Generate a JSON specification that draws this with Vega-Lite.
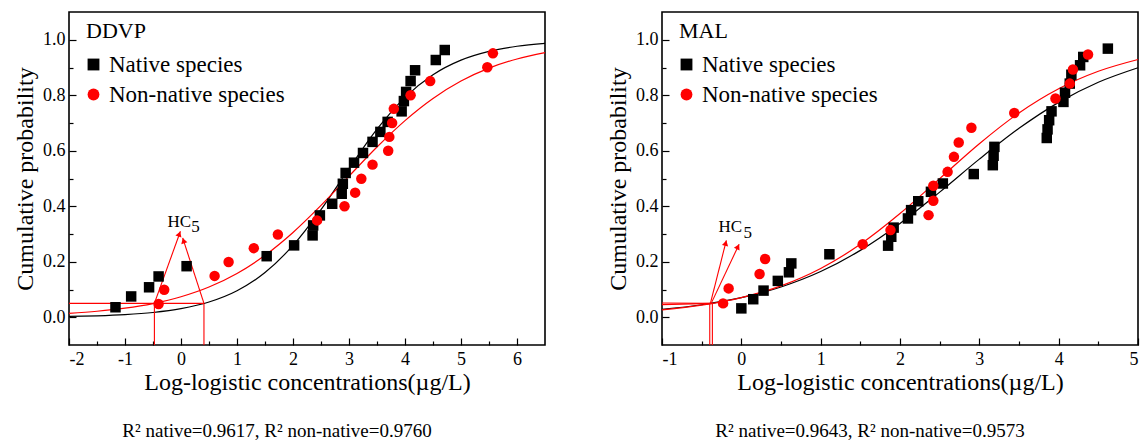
{
  "$schema": "https://vega.github.io/schema/vega-lite/v6.json",
  "padding": {"left": 12, "top": 11, "right": 2, "bottom": 2},
  "background": "white",
  "spacing": 56,
  "config": {
    "font": "Liberation Serif",
    "view": {"stroke": "black", "strokeWidth": 1.6},
    "axis": {"domain": false, "grid": false, "labelFont": "Liberation Serif", "labelFontSize": 18, "labelColor": "black", "titleFont": "Liberation Serif", "titleFontWeight": "normal", "titleColor": "black", "tickColor": "black", "tickWidth": 1.2},
    "axisX": {"titleFontSize": 24, "labelPadding": 12, "titlePadding": 2},
    "axisY": {"titleFontSize": 24, "labelPadding": 11, "titlePadding": 5},
    "legend": {"orient": "none", "legendX": 17, "legendY": 9, "padding": 0, "titleFont": "Liberation Serif", "titleFontSize": 22, "titleFontWeight": "normal", "titleColor": "black", "labelFont": "Liberation Serif", "labelFontSize": 23, "labelColor": "black", "symbolSize": 140, "rowPadding": 6, "titlePadding": 10, "labelOffset": 4, "symbolOffset": -4, "labelLimit": 300, "symbolStrokeWidth": 0},
    "title": {"font": "Liberation Serif", "fontSize": 19, "fontWeight": "normal", "color": "black", "orient": "bottom", "offset": 28, "dx": -30}
  },
  "resolve": {"scale": {"color": "independent", "shape": "independent"}, "legend": {"color": "independent", "shape": "independent"}},
  "datasets": {
    "ddvp_pts": [
      {"series": "Native species", "x": -1.17, "y": 0.036},
      {"series": "Native species", "x": -0.89, "y": 0.075},
      {"series": "Native species", "x": -0.57, "y": 0.108},
      {"series": "Native species", "x": -0.40, "y": 0.147},
      {"series": "Native species", "x": 0.10, "y": 0.184},
      {"series": "Native species", "x": 1.53, "y": 0.220},
      {"series": "Native species", "x": 2.02, "y": 0.259},
      {"series": "Native species", "x": 2.35, "y": 0.295},
      {"series": "Native species", "x": 2.36, "y": 0.331},
      {"series": "Native species", "x": 2.48, "y": 0.367},
      {"series": "Native species", "x": 2.70, "y": 0.409},
      {"series": "Native species", "x": 2.87, "y": 0.445},
      {"series": "Native species", "x": 2.89, "y": 0.481},
      {"series": "Native species", "x": 2.94, "y": 0.520},
      {"series": "Native species", "x": 3.09, "y": 0.557},
      {"series": "Native species", "x": 3.25, "y": 0.592},
      {"series": "Native species", "x": 3.42, "y": 0.632},
      {"series": "Native species", "x": 3.56, "y": 0.668},
      {"series": "Native species", "x": 3.69, "y": 0.704},
      {"series": "Native species", "x": 3.94, "y": 0.742},
      {"series": "Native species", "x": 3.98, "y": 0.779},
      {"series": "Native species", "x": 4.02, "y": 0.812},
      {"series": "Native species", "x": 4.10, "y": 0.851},
      {"series": "Native species", "x": 4.18, "y": 0.890},
      {"series": "Native species", "x": 4.55, "y": 0.927},
      {"series": "Native species", "x": 4.71, "y": 0.963},
      {"series": "Non-native species", "x": -0.40, "y": 0.048},
      {"series": "Non-native species", "x": -0.30, "y": 0.099},
      {"series": "Non-native species", "x": 0.60, "y": 0.149},
      {"series": "Non-native species", "x": 0.85, "y": 0.199},
      {"series": "Non-native species", "x": 1.30, "y": 0.249},
      {"series": "Non-native species", "x": 1.73, "y": 0.298},
      {"series": "Non-native species", "x": 2.43, "y": 0.349},
      {"series": "Non-native species", "x": 2.92, "y": 0.400},
      {"series": "Non-native species", "x": 3.11, "y": 0.449},
      {"series": "Non-native species", "x": 3.22, "y": 0.499},
      {"series": "Non-native species", "x": 3.42, "y": 0.550},
      {"series": "Non-native species", "x": 3.70, "y": 0.600},
      {"series": "Non-native species", "x": 3.72, "y": 0.650},
      {"series": "Non-native species", "x": 3.77, "y": 0.700},
      {"series": "Non-native species", "x": 3.80, "y": 0.751},
      {"series": "Non-native species", "x": 4.10, "y": 0.800},
      {"series": "Non-native species", "x": 4.45, "y": 0.851},
      {"series": "Non-native species", "x": 5.47, "y": 0.901},
      {"series": "Non-native species", "x": 5.57, "y": 0.951}
    ],
    "ddvp_curve": [
      {"series": "Native species", "x": -2, "y": 0.0029},
      {"series": "Native species", "x": -1.5, "y": 0.0053},
      {"series": "Native species", "x": -1, "y": 0.0096},
      {"series": "Native species", "x": -0.5, "y": 0.0172},
      {"series": "Native species", "x": 0, "y": 0.0309},
      {"series": "Native species", "x": 0.5, "y": 0.0548},
      {"series": "Native species", "x": 1, "y": 0.0954},
      {"series": "Native species", "x": 1.5, "y": 0.161},
      {"series": "Native species", "x": 2, "y": 0.259},
      {"series": "Native species", "x": 2.5, "y": 0.388},
      {"series": "Native species", "x": 3, "y": 0.536},
      {"series": "Native species", "x": 3.5, "y": 0.6775},
      {"series": "Native species", "x": 4, "y": 0.7925},
      {"series": "Native species", "x": 4.5, "y": 0.874},
      {"series": "Native species", "x": 5, "y": 0.9266},
      {"series": "Native species", "x": 5.5, "y": 0.9582},
      {"series": "Native species", "x": 6, "y": 0.9766},
      {"series": "Native species", "x": 6.5, "y": 0.987},
      {"series": "Non-native species", "x": -2, "y": 0.0142},
      {"series": "Non-native species", "x": -1.5, "y": 0.0216},
      {"series": "Non-native species", "x": -1, "y": 0.0328},
      {"series": "Non-native species", "x": -0.5, "y": 0.0494},
      {"series": "Non-native species", "x": 0, "y": 0.0738},
      {"series": "Non-native species", "x": 0.5, "y": 0.1088},
      {"series": "Non-native species", "x": 1, "y": 0.1577},
      {"series": "Non-native species", "x": 1.5, "y": 0.2231},
      {"series": "Non-native species", "x": 2, "y": 0.3056},
      {"series": "Non-native species", "x": 2.5, "y": 0.403},
      {"series": "Non-native species", "x": 3, "y": 0.5085},
      {"series": "Non-native species", "x": 3.5, "y": 0.6134},
      {"series": "Non-native species", "x": 4, "y": 0.7087},
      {"series": "Non-native species", "x": 4.5, "y": 0.7885},
      {"series": "Non-native species", "x": 5, "y": 0.8511},
      {"series": "Non-native species", "x": 5.5, "y": 0.8976},
      {"series": "Non-native species", "x": 6, "y": 0.9307},
      {"series": "Non-native species", "x": 6.5, "y": 0.9537}
    ],
    "ddvp_hc": [
      {"x": -2, "y": 0.05, "x2": 0.41, "y2": 0.05},
      {"x": -0.475, "y": -0.1, "x2": -0.475, "y2": 0.05},
      {"x": 0.41, "y": -0.1, "x2": 0.41, "y2": 0.05},
      {"x": -0.475, "y": 0.05, "x2": -0.01, "y2": 0.31},
      {"x": 0.41, "y": 0.05, "x2": 0.03, "y2": 0.286}
    ],
    "ddvp_heads": [
      {"id": "a", "x": -0.03, "y": 0.3},
      {"id": "b", "x": 0.045, "y": 0.276}
    ],
    "ddvp_text": [
      {"x": -0.03, "y": 0.343, "label": "HC"},
      {"x": 0.26, "y": 0.325, "label": "5"}
    ],
    "mal_pts": [
      {"series": "Native species", "x": 0.00, "y": 0.032},
      {"series": "Native species", "x": 0.15, "y": 0.065},
      {"series": "Native species", "x": 0.28, "y": 0.096},
      {"series": "Native species", "x": 0.46, "y": 0.131},
      {"series": "Native species", "x": 0.60, "y": 0.162},
      {"series": "Native species", "x": 0.63, "y": 0.194},
      {"series": "Native species", "x": 1.11, "y": 0.227},
      {"series": "Native species", "x": 1.85, "y": 0.258},
      {"series": "Native species", "x": 1.89, "y": 0.290},
      {"series": "Native species", "x": 1.92, "y": 0.323},
      {"series": "Native species", "x": 2.10, "y": 0.356},
      {"series": "Native species", "x": 2.14, "y": 0.386},
      {"series": "Native species", "x": 2.23, "y": 0.418},
      {"series": "Native species", "x": 2.39, "y": 0.452},
      {"series": "Native species", "x": 2.54, "y": 0.482},
      {"series": "Native species", "x": 2.93, "y": 0.516},
      {"series": "Native species", "x": 3.17, "y": 0.548},
      {"series": "Native species", "x": 3.18, "y": 0.582},
      {"series": "Native species", "x": 3.19, "y": 0.614},
      {"series": "Native species", "x": 3.85, "y": 0.646},
      {"series": "Native species", "x": 3.86, "y": 0.677},
      {"series": "Native species", "x": 3.88, "y": 0.710},
      {"series": "Native species", "x": 3.91, "y": 0.742},
      {"series": "Native species", "x": 4.06, "y": 0.776},
      {"series": "Native species", "x": 4.08, "y": 0.809},
      {"series": "Native species", "x": 4.14, "y": 0.842},
      {"series": "Native species", "x": 4.16, "y": 0.874},
      {"series": "Native species", "x": 4.27, "y": 0.908},
      {"series": "Native species", "x": 4.31, "y": 0.938},
      {"series": "Native species", "x": 4.62, "y": 0.968},
      {"series": "Non-native species", "x": -0.23, "y": 0.050},
      {"series": "Non-native species", "x": -0.16, "y": 0.104},
      {"series": "Non-native species", "x": 0.23, "y": 0.156},
      {"series": "Non-native species", "x": 0.30, "y": 0.210},
      {"series": "Non-native species", "x": 1.53, "y": 0.263},
      {"series": "Non-native species", "x": 1.88, "y": 0.314},
      {"series": "Non-native species", "x": 2.36, "y": 0.368},
      {"series": "Non-native species", "x": 2.42, "y": 0.420},
      {"series": "Non-native species", "x": 2.42, "y": 0.474},
      {"series": "Non-native species", "x": 2.60, "y": 0.524},
      {"series": "Non-native species", "x": 2.68, "y": 0.578},
      {"series": "Non-native species", "x": 2.74, "y": 0.630},
      {"series": "Non-native species", "x": 2.90, "y": 0.683},
      {"series": "Non-native species", "x": 3.44, "y": 0.736},
      {"series": "Non-native species", "x": 3.96, "y": 0.788},
      {"series": "Non-native species", "x": 4.14, "y": 0.842},
      {"series": "Non-native species", "x": 4.18, "y": 0.893},
      {"series": "Non-native species", "x": 4.37, "y": 0.947}
    ],
    "mal_curve": [
      {"series": "Native species", "x": -1, "y": 0.0285},
      {"series": "Native species", "x": -0.5, "y": 0.0451},
      {"series": "Native species", "x": 0, "y": 0.0707},
      {"series": "Native species", "x": 0.5, "y": 0.1091},
      {"series": "Native species", "x": 1, "y": 0.1647},
      {"series": "Native species", "x": 1.5, "y": 0.241},
      {"series": "Native species", "x": 2, "y": 0.338},
      {"series": "Native species", "x": 2.5, "y": 0.451},
      {"series": "Native species", "x": 3, "y": 0.5698},
      {"series": "Native species", "x": 3.5, "y": 0.6807},
      {"series": "Native species", "x": 4, "y": 0.7743},
      {"series": "Native species", "x": 4.5, "y": 0.8467},
      {"series": "Native species", "x": 5, "y": 0.899},
      {"series": "Non-native species", "x": -1, "y": 0.0265},
      {"series": "Non-native species", "x": -0.5, "y": 0.0436},
      {"series": "Non-native species", "x": 0, "y": 0.0708},
      {"series": "Non-native species", "x": 0.5, "y": 0.1131},
      {"series": "Non-native species", "x": 1, "y": 0.1758},
      {"series": "Non-native species", "x": 1.5, "y": 0.2629},
      {"series": "Non-native species", "x": 2, "y": 0.3737},
      {"series": "Non-native species", "x": 2.5, "y": 0.4995},
      {"series": "Non-native species", "x": 3, "y": 0.6254},
      {"series": "Non-native species", "x": 3.5, "y": 0.7363},
      {"series": "Non-native species", "x": 4, "y": 0.8236},
      {"series": "Non-native species", "x": 4.5, "y": 0.8865},
      {"series": "Non-native species", "x": 5, "y": 0.9289}
    ],
    "mal_hc": [
      {"x": -1, "y": 0.0516, "x2": -0.398, "y2": 0.05},
      {"x": -1, "y": 0.0455, "x2": -0.365, "y2": 0.05},
      {"x": -0.398, "y": -0.1, "x2": -0.398, "y2": 0.05},
      {"x": -0.365, "y": -0.1, "x2": -0.365, "y2": 0.05},
      {"x": -0.39, "y": 0.05, "x2": -0.189, "y2": 0.277},
      {"x": -0.38, "y": 0.05, "x2": -0.028, "y2": 0.263}
    ],
    "mal_heads": [
      {"id": "a", "x": -0.197, "y": 0.267},
      {"id": "b", "x": -0.043, "y": 0.254}
    ],
    "mal_text": [
      {"x": -0.138, "y": 0.325, "label": "HC"},
      {"x": 0.08, "y": 0.302, "label": "5"}
    ]
  },
  "hconcat": [
    {
      "width": 476,
      "height": 333,
      "title": {"text": "R² native=0.9617, R² non-native=0.9760"},
      "encoding": {
        "x": {"field": "x", "type": "quantitative", "scale": {"domain": [-2, 6.5], "nice": false, "zero": false},
          "axis": {"title": "Log-logistic concentrations(µg/L)", "values": [-2, -1.5, -1, -0.5, 0, 0.5, 1, 1.5, 2, 2.5, 3, 3.5, 4, 4.5, 5, 5.5, 6],
            "labelExpr": "datum.value % 1 == 0 ? '' + datum.value : ''",
            "tickSize": {"condition": {"test": "datum.value % 1 == 0", "value": -7}, "value": -4}}},
        "y": {"field": "y", "type": "quantitative", "scale": {"domain": [-0.1, 1.1], "nice": false, "zero": false},
          "axis": {"title": "Cumulative probability", "values": [0, 0.1, 0.2, 0.3, 0.4, 0.5, 0.6, 0.7, 0.8, 0.9, 1.0],
            "labelExpr": "round(datum.value*10) % 2 == 0 ? format(datum.value, '.1f') : ''",
            "tickSize": {"condition": {"test": "round(datum.value*10) % 2 == 0", "value": -7}, "value": -4}}}
      },
      "layer": [
        {"data": {"name": "ddvp_curve"}, "transform": [{"filter": "datum.series == 'Native species'"}], "mark": {"type": "line", "color": "black", "strokeWidth": 1.2, "interpolate": "monotone"}},
        {"data": {"name": "ddvp_curve"}, "transform": [{"filter": "datum.series == 'Non-native species'"}], "mark": {"type": "line", "color": "red", "strokeWidth": 1.2, "interpolate": "monotone"}},
        {"data": {"name": "ddvp_hc"}, "mark": {"type": "rule", "color": "red", "strokeWidth": 1.1}, "encoding": {"x2": {"field": "x2"}, "y2": {"field": "y2"}}},
        {"data": {"name": "ddvp_heads"}, "transform": [{"filter": "datum.id == 'a'"}], "mark": {"type": "point", "shape": "triangle-up", "filled": true, "color": "red", "opacity": 1, "size": 40, "angle": 19}},
        {"data": {"name": "ddvp_heads"}, "transform": [{"filter": "datum.id == 'b'"}], "mark": {"type": "point", "shape": "triangle-up", "filled": true, "color": "red", "opacity": 1, "size": 40, "angle": -17}},
        {"data": {"name": "ddvp_text"}, "mark": {"type": "text", "fontSize": 17, "color": "black", "font": "Liberation Serif", "baseline": "middle", "align": "center"}, "encoding": {"text": {"field": "label"}}},
        {"data": {"name": "ddvp_pts"}, "mark": {"type": "point", "filled": true, "size": 110, "opacity": 1},
          "encoding": {
            "shape": {"field": "series", "type": "nominal", "scale": {"domain": ["Native species", "Non-native species"], "range": ["square", "circle"]}, "legend": {"title": "DDVP"}},
            "color": {"field": "series", "type": "nominal", "scale": {"domain": ["Native species", "Non-native species"], "range": ["black", "red"]}, "legend": {"title": "DDVP"}}
          }}
      ]
    },
    {
      "width": 476,
      "height": 333,
      "title": {"text": "R² native=0.9643, R² non-native=0.9573"},
      "encoding": {
        "x": {"field": "x", "type": "quantitative", "scale": {"domain": [-1, 5], "nice": false, "zero": false},
          "axis": {"title": "Log-logistic concentrations(µg/L)", "values": [-1, -0.5, 0, 0.5, 1, 1.5, 2, 2.5, 3, 3.5, 4, 4.5, 5],
            "labelExpr": "datum.value % 1 == 0 ? '' + datum.value : ''",
            "tickSize": {"condition": {"test": "datum.value % 1 == 0", "value": -7}, "value": -4}}},
        "y": {"field": "y", "type": "quantitative", "scale": {"domain": [-0.1, 1.1], "nice": false, "zero": false},
          "axis": {"title": "Cumulative probability", "values": [0, 0.1, 0.2, 0.3, 0.4, 0.5, 0.6, 0.7, 0.8, 0.9, 1.0],
            "labelExpr": "round(datum.value*10) % 2 == 0 ? format(datum.value, '.1f') : ''",
            "tickSize": {"condition": {"test": "round(datum.value*10) % 2 == 0", "value": -7}, "value": -4}}}
      },
      "layer": [
        {"data": {"name": "mal_curve"}, "transform": [{"filter": "datum.series == 'Native species'"}], "mark": {"type": "line", "color": "black", "strokeWidth": 1.2, "interpolate": "monotone"}},
        {"data": {"name": "mal_curve"}, "transform": [{"filter": "datum.series == 'Non-native species'"}], "mark": {"type": "line", "color": "red", "strokeWidth": 1.2, "interpolate": "monotone"}},
        {"data": {"name": "mal_hc"}, "mark": {"type": "rule", "color": "red", "strokeWidth": 1.1}, "encoding": {"x2": {"field": "x2"}, "y2": {"field": "y2"}}},
        {"data": {"name": "mal_heads"}, "transform": [{"filter": "datum.id == 'a'"}], "mark": {"type": "point", "shape": "triangle-up", "filled": true, "color": "red", "opacity": 1, "size": 40, "angle": 14}},
        {"data": {"name": "mal_heads"}, "transform": [{"filter": "datum.id == 'b'"}], "mark": {"type": "point", "shape": "triangle-up", "filled": true, "color": "red", "opacity": 1, "size": 40, "angle": 26}},
        {"data": {"name": "mal_text"}, "mark": {"type": "text", "fontSize": 17, "color": "black", "font": "Liberation Serif", "baseline": "middle", "align": "center"}, "encoding": {"text": {"field": "label"}}},
        {"data": {"name": "mal_pts"}, "mark": {"type": "point", "filled": true, "size": 110, "opacity": 1},
          "encoding": {
            "shape": {"field": "series", "type": "nominal", "scale": {"domain": ["Native species", "Non-native species"], "range": ["square", "circle"]}, "legend": {"title": "MAL"}},
            "color": {"field": "series", "type": "nominal", "scale": {"domain": ["Native species", "Non-native species"], "range": ["black", "red"]}, "legend": {"title": "MAL"}}
          }}
      ]
    }
  ]
}
